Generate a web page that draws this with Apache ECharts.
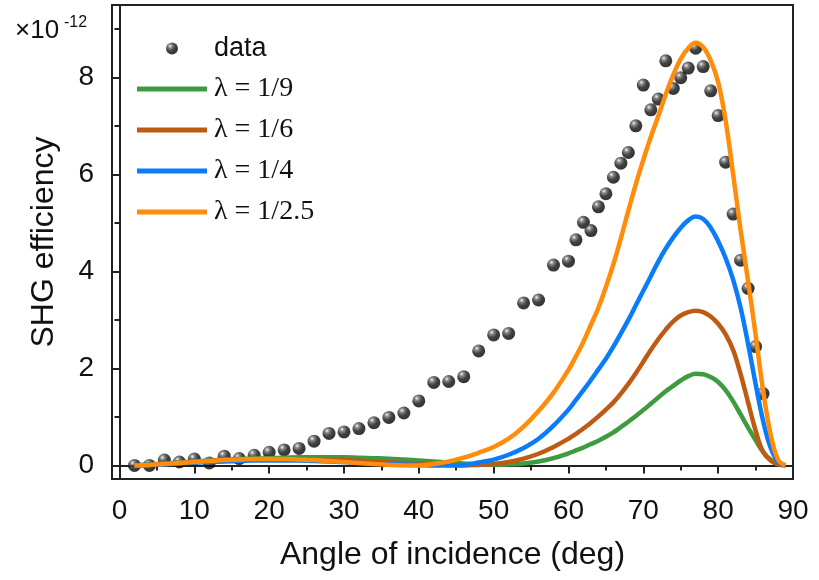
<!DOCTYPE html>
<html>
<head>
<meta charset="utf-8">
<script src="https://cdn.jsdelivr.net/npm/echarts@6/dist/echarts.min.js"></script>
<style>
  html, body { margin: 0; padding: 0; background: #fff; }
  #chart { width: 819px; height: 580px; }
</style>
</head>
<body>
<div id="chart"></div>
<script>
// measured points
const dataX = [2,4,6,8,10,12,14,16,18,20,22,24,26,28,30,32,34,36,38,40,42,44,46,48,50,52,54,56,58,60,
  61,62,63,64,65,66,67,68,69,70,71,72,73,74,75,76,77,78,79,80,81,82,83,84,85,86]
const dataY = [0,0,0.11,0.07,0.13,0.05,0.19,0.14,0.21,0.27,0.32,0.35,0.5,0.66,0.69,0.76,0.88,0.99,1.08,1.33,
  1.71,1.73,1.83,2.36,2.69,2.72,3.35,3.41,4.13,4.21,
  4.65,5.01,4.84,5.33,5.6,5.94,6.23,6.45,7.0,7.84,7.33,7.55,8.34,7.77,7.99,8.19,8.6,8.22,7.72,7.21,
  6.25,5.18,4.23,3.65,2.45,1.48]

// model curves (shared x grid: step 2 up to 58, then step 1)
const curveX = [2,4,6,8,10,12,14,16,18,20,22,24,26,28,30,32,34,36,38,40,42,44,46,48,50,52,54,56,58,
  60,61,62,63,64,65,66,67,68,69,70,71,72,73,74,75,76,77,78,79,80,81,82,83,84,85,86,87,88,89]
const lambda9 = [0,0.02,0.04,0.06,0.08,0.1,0.12,0.13,0.14,0.15, 0.16,0.17,0.17,0.17,0.17,0.16,0.15,0.14,0.12,0.1,
  0.08,0.06,0.04,0.02,0.01,0.02,0.04,0.08,0.15,
  0.25,0.31,0.37,0.44,0.51,0.59,0.68,0.79,0.9,1.02,1.14,1.27,1.4,1.53,1.64,1.75,1.84,1.89,1.88,1.82,
  1.72,1.55,1.32,1.05,0.78,0.52,0.28,0.12,0.04,0]
const lambda6 = [0,0.01,0.03,0.05,0.07,0.09,0.1,0.11,0.12,0.12, 0.12,0.12,0.12,0.11,0.11,0.1,0.08,0.07,0.05,0.04,
  0.02,0.01,0,0.01,0.03,0.07,0.14,0.24,0.38,
  0.55,0.65,0.76,0.88,1.01,1.15,1.3,1.48,1.68,1.9,2.14,2.38,2.6,2.8,2.97,3.09,3.16,3.19,3.16,3.07,
  2.92,2.7,2.38,1.88,1.3,0.72,0.28,0.1,0.02,0]
const lambda4 = [0,0.01,0.02,0.04,0.06,0.07,0.08,0.09,0.1,0.1, 0.1,0.1,0.09,0.08,0.07,0.05,0.04,0.03,0.02,0.01,
  0,0,0.01,0.06,0.12,0.22,0.36,0.55,0.82,
  1.15,1.35,1.55,1.76,1.98,2.2,2.45,2.72,3.0,3.3,3.6,3.9,4.2,4.47,4.7,4.9,5.05,5.13,5.08,4.9,
  4.62,4.27,3.83,3.25,2.5,1.68,0.92,0.37,0.08,0]
const lambda25 = [0,0.01,0.03,0.05,0.07,0.09,0.11,0.12,0.13,0.13, 0.13,0.12,0.11,0.09,0.07,0.05,0.03,0.01,0,0,
  0.03,0.08,0.16,0.26,0.38,0.55,0.8,1.12,1.5,
  1.97,2.25,2.55,2.9,3.25,3.68,4.15,4.68,5.25,5.8,6.3,6.77,7.2,7.65,8.05,8.38,8.6,8.71,8.62,8.35,
  7.9,7.1,6.0,4.85,3.8,2.7,1.55,0.65,0.12,0]

const xMajor = [0,10,20,30,40,50,60,70,80,90]
const xMinor = [5,15,25,35,45,55,65,75,85]
const yMajor = [0,2,4,6,8]
const yMinor = [1,3,5,7,9]

const sans = 'Liberation Sans, Arial, sans-serif'
const serif = 'Liberation Serif, Times New Roman, serif'

const pairs = (xs, ys) => xs.map((x, i) => [x, ys[i]])

const chart = echarts.init(document.getElementById('chart'))

const curves = [
  { name: 'λ = 1/9', data: lambda9, color: '#3f9b3f' },
  { name: 'λ = 1/6', data: lambda6, color: '#bf5a14' },
  { name: 'λ = 1/4', data: lambda4, color: '#0a7cf8' },
  { name: 'λ = 1/2.5', data: lambda25, color: '#ff8c0a' },
]

const sphere = new echarts.graphic.RadialGradient(0.35, 0.3, 0.75, [
  { offset: 0, color: '#f2f2f2' },
  { offset: 0.22, color: '#6a6a6a' },
  { offset: 0.55, color: '#111111' },
  { offset: 1, color: '#000000' },
])

chart.setOption({
  backgroundColor: '#ffffff',
  animation: false,
  grid: {
    left: 112, right: 26, top: 5, bottom: 101,
    show: true, borderColor: '#222', borderWidth: 2,
  },
  graphic: [
    { type: 'text', left: 15, top: 18, style: { text: '\u00d710', font: '26px ' + sans, fill: '#111' } },
    { type: 'text', left: 64, top: 15, style: { text: '-12', font: '16px ' + sans, fill: '#111' } },
  ],
  legend: {
    orient: 'vertical',
    left: 137, top: 35, padding: 0,
    itemWidth: 70, itemHeight: 12,
    itemGap: 13,
    data: [
      { name: 'data', textStyle: { fontFamily: sans, fontSize: 27, lineHeight: 26, color: '#111', padding: [0, 0, 0, 2] } },
      ...curves.map(c => ({
        name: c.name,
        icon: 'path://M0,0H70V5H0Z',
        textStyle: { fontFamily: serif, fontSize: 28, lineHeight: 26, color: '#111', padding: [0, 0, 0, 2] },
      })),
    ],
  },
  xAxis: [
    {
      type: 'value', min: -1, max: 90,
      name: 'Angle of incidence (deg)', nameLocation: 'middle', nameGap: 60,
      nameTextStyle: { fontFamily: sans, fontSize: 32, color: '#111' },
      axisLine: { show: true, lineStyle: { color: '#222', width: 2 } },
      axisTick: { show: true, inside: false, length: 8, customValues: xMajor, lineStyle: { color: '#222', width: 2 } },
      axisLabel: { customValues: xMajor, margin: 18, fontFamily: sans, fontSize: 28, color: '#111' },
      splitLine: { show: false },
    },
    {
      type: 'value', min: -1, max: 90, position: 'bottom',
      axisLine: { show: false },
      axisTick: { show: true, inside: false, length: 5, customValues: xMinor, lineStyle: { color: '#222', width: 2 } },
      axisLabel: { show: false },
      splitLine: { show: false },
    },
  ],
  yAxis: [
    {
      type: 'value', min: -0.28, max: 9.49,
      name: 'SHG efficiency', nameLocation: 'middle', nameGap: 52,
      nameTextStyle: { fontFamily: sans, fontSize: 32, color: '#111' },
      axisLine: { show: true, lineStyle: { color: '#222', width: 2 } },
      axisTick: { show: true, inside: false, length: 8, customValues: yMajor, lineStyle: { color: '#222', width: 2 } },
      axisLabel: { customValues: yMajor, margin: 18, fontFamily: sans, fontSize: 28, color: '#111' },
      splitLine: { show: false },
    },
    {
      type: 'value', min: -0.28, max: 9.49, position: 'left',
      axisLine: { show: false },
      axisTick: { show: true, inside: false, length: 5, customValues: yMinor, lineStyle: { color: '#222', width: 2 } },
      axisLabel: { show: false },
      splitLine: { show: false },
    },
  ],
  series: [
    {
      name: 'data',
      type: 'scatter',
      data: pairs(dataX, dataY),
      symbolSize: 13,
      itemStyle: { color: sphere },
      z: 2,
    },
    ...curves.map((c, i) => ({
      name: c.name,
      type: 'line',
      data: pairs(curveX, c.data),
      smooth: 0.4,
      symbol: 'none',
      lineStyle: { color: c.color, width: 4.5 },
      itemStyle: { color: c.color },
      z: 3 + i,
    })),
  ],
})
</script>
</body>
</html>
